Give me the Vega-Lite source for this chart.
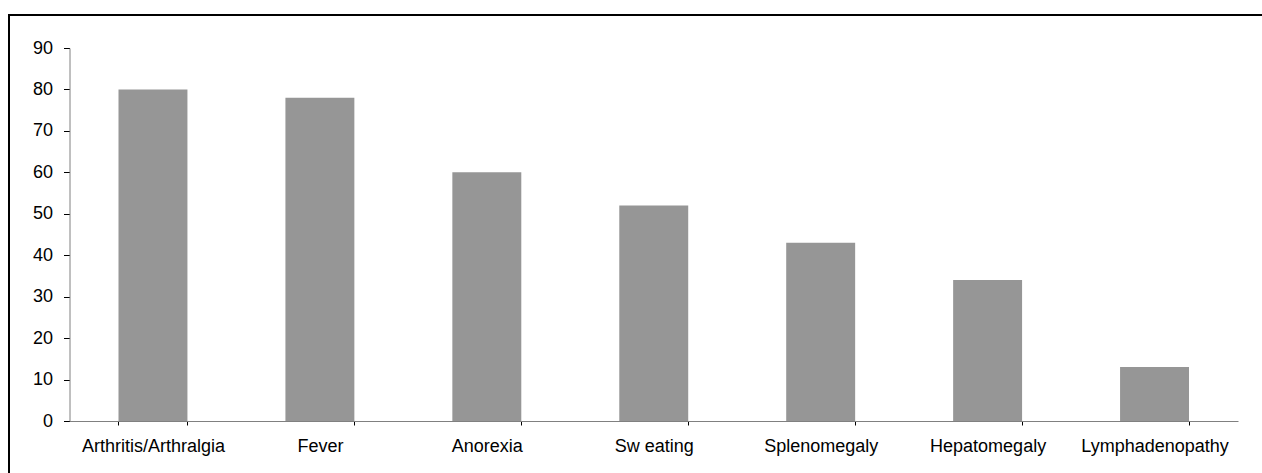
{
  "$schema": "https://vega.github.io/schema/vega-lite/v6.json",
  "autosize": {"type": "none"},
  "padding": {"left": 9, "top": 15, "right": 0, "bottom": 0},
  "width": 1253,
  "height": 458,
  "background": "white",
  "config": {
    "view": {"stroke": "#000000", "strokeWidth": 2, "strokeDash": [1253, 1711, 458]},
    "font": "Liberation Sans"
  },
  "data": {
    "values": [
      {"symptom": "Arthritis/Arthralgia", "pct": 80},
      {"symptom": "Fever", "pct": 78},
      {"symptom": "Anorexia", "pct": 60},
      {"symptom": "Sw eating", "pct": 52},
      {"symptom": "Splenomegaly", "pct": 43},
      {"symptom": "Hepatomegaly", "pct": 34},
      {"symptom": "Lymphadenopathy", "pct": 13}
    ]
  },
  "mark": {"type": "bar", "color": "#969696"},
  "encoding": {
    "x": {
      "field": "symptom",
      "type": "nominal",
      "sort": null,
      "scale": {"range": [60.5, 1229], "paddingInner": 0.587, "paddingOuter": 0.2935},
      "axis": {
        "title": null,
        "offset": -52,
        "labelAngle": 0,
        "labelFont": "Liberation Sans",
        "labelFontSize": 18,
        "labelColor": "#000000",
        "labelPadding": 12,
        "tickBand": "extent",
        "tickSize": 4,
        "tickColor": "#000000",
        "domainColor": "#808080",
        "grid": false
      }
    },
    "y": {
      "field": "pct",
      "type": "quantitative",
      "scale": {"domain": [0, 90], "range": [406, 33], "nice": false},
      "axis": {
        "title": null,
        "offset": -60.5,
        "values": [0, 10, 20, 30, 40, 50, 60, 70, 80, 90],
        "labelFont": "Liberation Sans",
        "labelFontSize": 18,
        "labelColor": "#000000",
        "labelPadding": 11,
        "tickSize": 6,
        "tickColor": "#000000",
        "domainColor": "#808080",
        "grid": false
      }
    }
  }
}
